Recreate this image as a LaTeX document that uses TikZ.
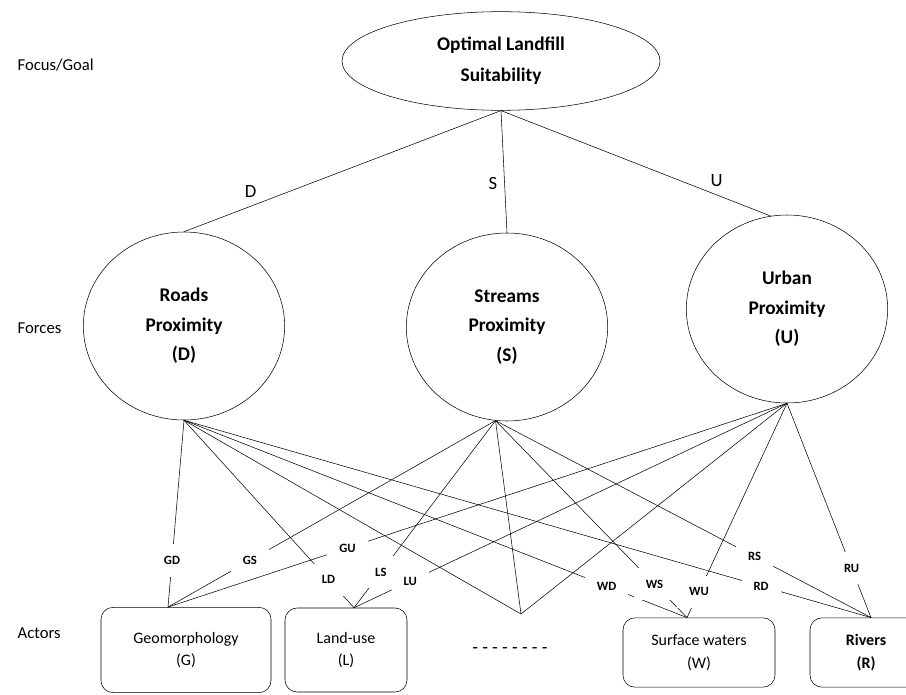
\documentclass[tikz,border=0pt]{standalone}
\usepackage{fontspec}
\setmainfont{Carlito}
\usetikzlibrary{shapes.geometric}
\begin{document}
\begin{tikzpicture}[x=0.75pt,y=-0.75pt,line join=round,line cap=round,
		force/.style={draw,ellipse,minimum width=151pt,minimum height=141pt,align=center,font=\fontsize{14.5}{22}\selectfont\bfseries},
		actor/.style={draw,rounded corners=9pt,align=center,font=\fontsize{12}{17}\selectfont},
		lab/.style={fill=white,inner xsep=9pt,inner ysep=9pt,font=\fontsize{9.5}{11}\selectfont\bfseries},
		ltr/.style={font=\fontsize{14}{16}\selectfont},
		tier/.style={anchor=west,font=\fontsize{12.5}{15}\selectfont}]
	\useasboundingbox (0,0) rectangle (906,695);
	% tiers
	\node[tier] (focus) at (13,65) {Focus/Goal};
	\node[tier] (forces) at (13,328) {Forces};
	\node[tier] (actors) at (13,633) {Actors};
	% goal and forces
	\node[draw,ellipse,minimum width=238.5pt,minimum height=74pt,align=center,font=\fontsize{14.5}{23}\selectfont\bfseries] (goal) at (501,61) {Optimal Landfill\\Suitability};
	\node[force] (roads) at (184,326) {Roads\\Proximity\\(D)};
	\node[force] (streams) at (507,327) {Streams\\Proximity\\(S)};
	\node[force] (urban) at (787,309) {Urban\\Proximity\\(U)};
	\draw (goal.south) -- node[ltr,pos=.79,above=3pt] {D} (roads.north);
	\draw (goal.south) -- node[ltr,pos=.6,left=2pt] {S} (streams.north);
	\draw (goal.south) -- node[ltr,pos=.8,above=3pt] {U} (urban.100);
	% actors
	\node[actor,minimum width=127.5pt,minimum height=64pt] (geo) at (186,650) {Geomorphology\\(G)};
	\node[actor,minimum width=91.5pt,minimum height=63pt] (land) at (346,650) {Land-use\\(L)};
	\node[actor,minimum width=114pt,minimum height=52pt] (water) at (699,652.5) {Surface waters\\(W)};
	\node[actor,minimum width=84pt,minimum height=52pt,font=\fontsize{12}{17}\selectfont\bfseries] (rivers) at (866,652.5) {Rivers\\(R)};
	\node[ltr] (more) at (510,651) {- - - - - - - -};
	% ends of the links
	\coordinate (dB) at (roads.south);
	\coordinate (sB) at (streams.263);
	\coordinate (uB) at (urban.south);
	\coordinate (gT) at ([xshift=-13.5pt]geo.north);
	\coordinate (lT) at ([xshift=6pt]land.north);
	\coordinate (wT) at ([xshift=-9pt]water.north);
	\coordinate (rT) at ([xshift=3.75pt]rivers.north);
	\coordinate (xT) at (521,614);
	\foreach \f/\a/\p/\t in {dB/gT/.75/GD, sB/gT/.75/GS, uB/gT/.71/GU,
			dB/lT/.85/LD, sB/lT/.81/LS, uB/lT/.87/LU,
			dB/wT/.84/WD, sB/wT/.83/WS, uB/wT/.88/WU,
			dB/rT/.84/RD, sB/rT/.69/RS, uB/rT/.77/RU}
		\draw (\f) -- node[lab,pos=\p] {\t} (\a);
	\foreach \f in {dB,sB,uB}
		\draw (\f) -- (xT);
\end{tikzpicture}
\end{document}
